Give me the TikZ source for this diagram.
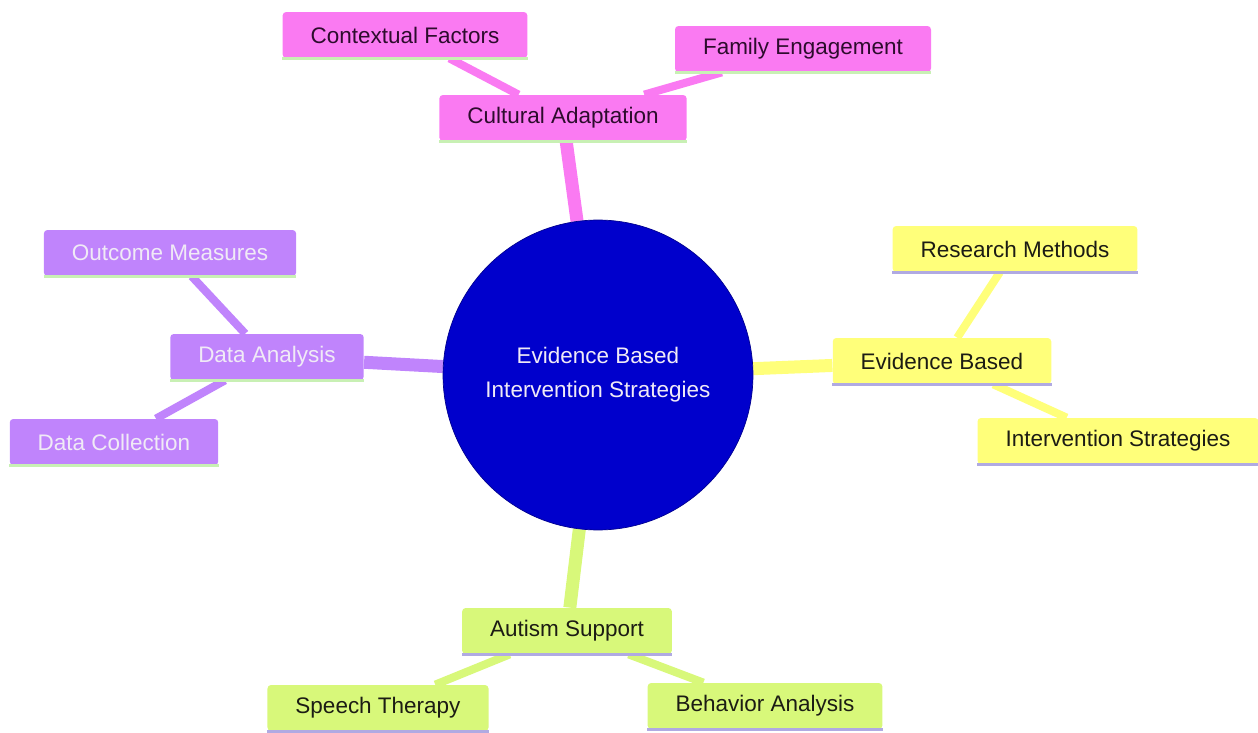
\documentclass[tikz,border=0pt]{standalone}
\usepackage{fontspec}
\setmainfont{Liberation Sans}
\usepackage{tikz}
\usetikzlibrary{positioning, backgrounds}

\definecolor{rootblue}{RGB}{0,0,204}
\definecolor{pinkfill}{RGB}{250,122,242}
\definecolor{yellowfill}{RGB}{255,255,122}
\definecolor{purplefill}{RGB}{192,132,252}
\definecolor{greenfill}{RGB}{216,248,122}
\definecolor{pinktext}{RGB}{45,12,45}
\definecolor{darktext}{RGB}{28,28,20}
\definecolor{lighttext}{RGB}{240,234,246}
\definecolor{linegreen}{RGB}{200,240,180}
\definecolor{linelav}{RGB}{176,170,226}

\begin{document}
\begin{tikzpicture}[
  x=0.02cm, y=-0.02cm,
  font=\fontsize{12.8}{15}\selectfont,
  every node/.style={align=center},
  topic/.style={rounded corners=2pt, minimum height=9.2mm,
                inner xsep=5.6mm, inner ysep=0pt},
  pinkbox/.style={topic, fill=pinkfill, text=pinktext},
  yellowbox/.style={topic, fill=yellowfill, text=darktext},
  purplebox/.style={topic, fill=purplefill, text=lighttext},
  greenbox/.style={topic, fill=greenfill, text=darktext},
  rootnode/.style={circle, minimum size=6.2cm, fill=rootblue,
                   draw=rootblue!70!black, text=lighttext,
                   font=\fontsize{12.8}{19.3}\selectfont},
  rootedge/.style={line width=7.4pt},
  leafedge/.style={line width=4.6pt},
  greenline/.style={draw=linegreen, line width=1.6pt},
  lavline/.style={draw=linelav, line width=1.6pt}
]
\useasboundingbox (0,0) rectangle (1258,733);

\node[rootnode] (root) at (598,375) {Evidence Based\\Intervention Strategies};

\node[pinkbox]   (cult)   at (563,118)  {Cultural Adaptation};
\node[pinkbox]   (ctx)    at (405,35)   {Contextual Factors};
\node[pinkbox]   (fam)    at (803,49)   {Family Engagement};
\node[yellowbox] (evid)   at (942,361)  {Evidence Based};
\node[yellowbox] (resm)   at (1015,249) {Research Methods};
\node[yellowbox] (intv)   at (1118,441) {Intervention Strategies};
\node[purplebox] (data)   at (267,357)  {Data Analysis};
\node[purplebox] (outm)   at (170,253)  {Outcome Measures};
\node[purplebox] (dcol)   at (114,442)  {Data Collection};
\node[greenbox]  (aut)    at (567,631)  {Autism Support};
\node[greenbox]  (speech) at (378,708)  {Speech Therapy};
\node[greenbox]  (behav)  at (765,706)  {Behavior Analysis};

\begin{scope}[on background layer]
  \draw[rootedge, pinkfill]   (root) -- (cult);
  \draw[rootedge, yellowfill] (root) -- (evid);
  \draw[rootedge, purplefill] (root) -- (data);
  \draw[rootedge, greenfill]  (root) -- (aut);
  \draw[leafedge, pinkfill]   (cult) -- (ctx);
  \draw[leafedge, pinkfill]   (cult) -- (fam);
  \draw[leafedge, yellowfill] (evid) -- (resm);
  \draw[leafedge, yellowfill] (evid) -- (intv);
  \draw[leafedge, purplefill] (data) -- (outm);
  \draw[leafedge, purplefill] (data) -- (dcol);
  \draw[leafedge, greenfill]  (aut) -- (speech);
  \draw[leafedge, greenfill]  (aut) -- (behav);
\end{scope}

% thin strips under the boxes
\draw[greenline] (cult.south west) -- (cult.south east)
                 (ctx.south west) -- (ctx.south east)
                 (fam.south west) -- (fam.south east)
                 (data.south west) -- (data.south east)
                 (outm.south west) -- (outm.south east)
                 (dcol.south west) -- (dcol.south east);
\draw[lavline] (evid.south west) -- (evid.south east)
               (resm.south west) -- (resm.south east)
               (intv.south west) -- (intv.south east)
               (aut.south west) -- (aut.south east)
               (speech.south west) -- (speech.south east)
               (behav.south west) -- (behav.south east);

\end{tikzpicture}
\end{document}
